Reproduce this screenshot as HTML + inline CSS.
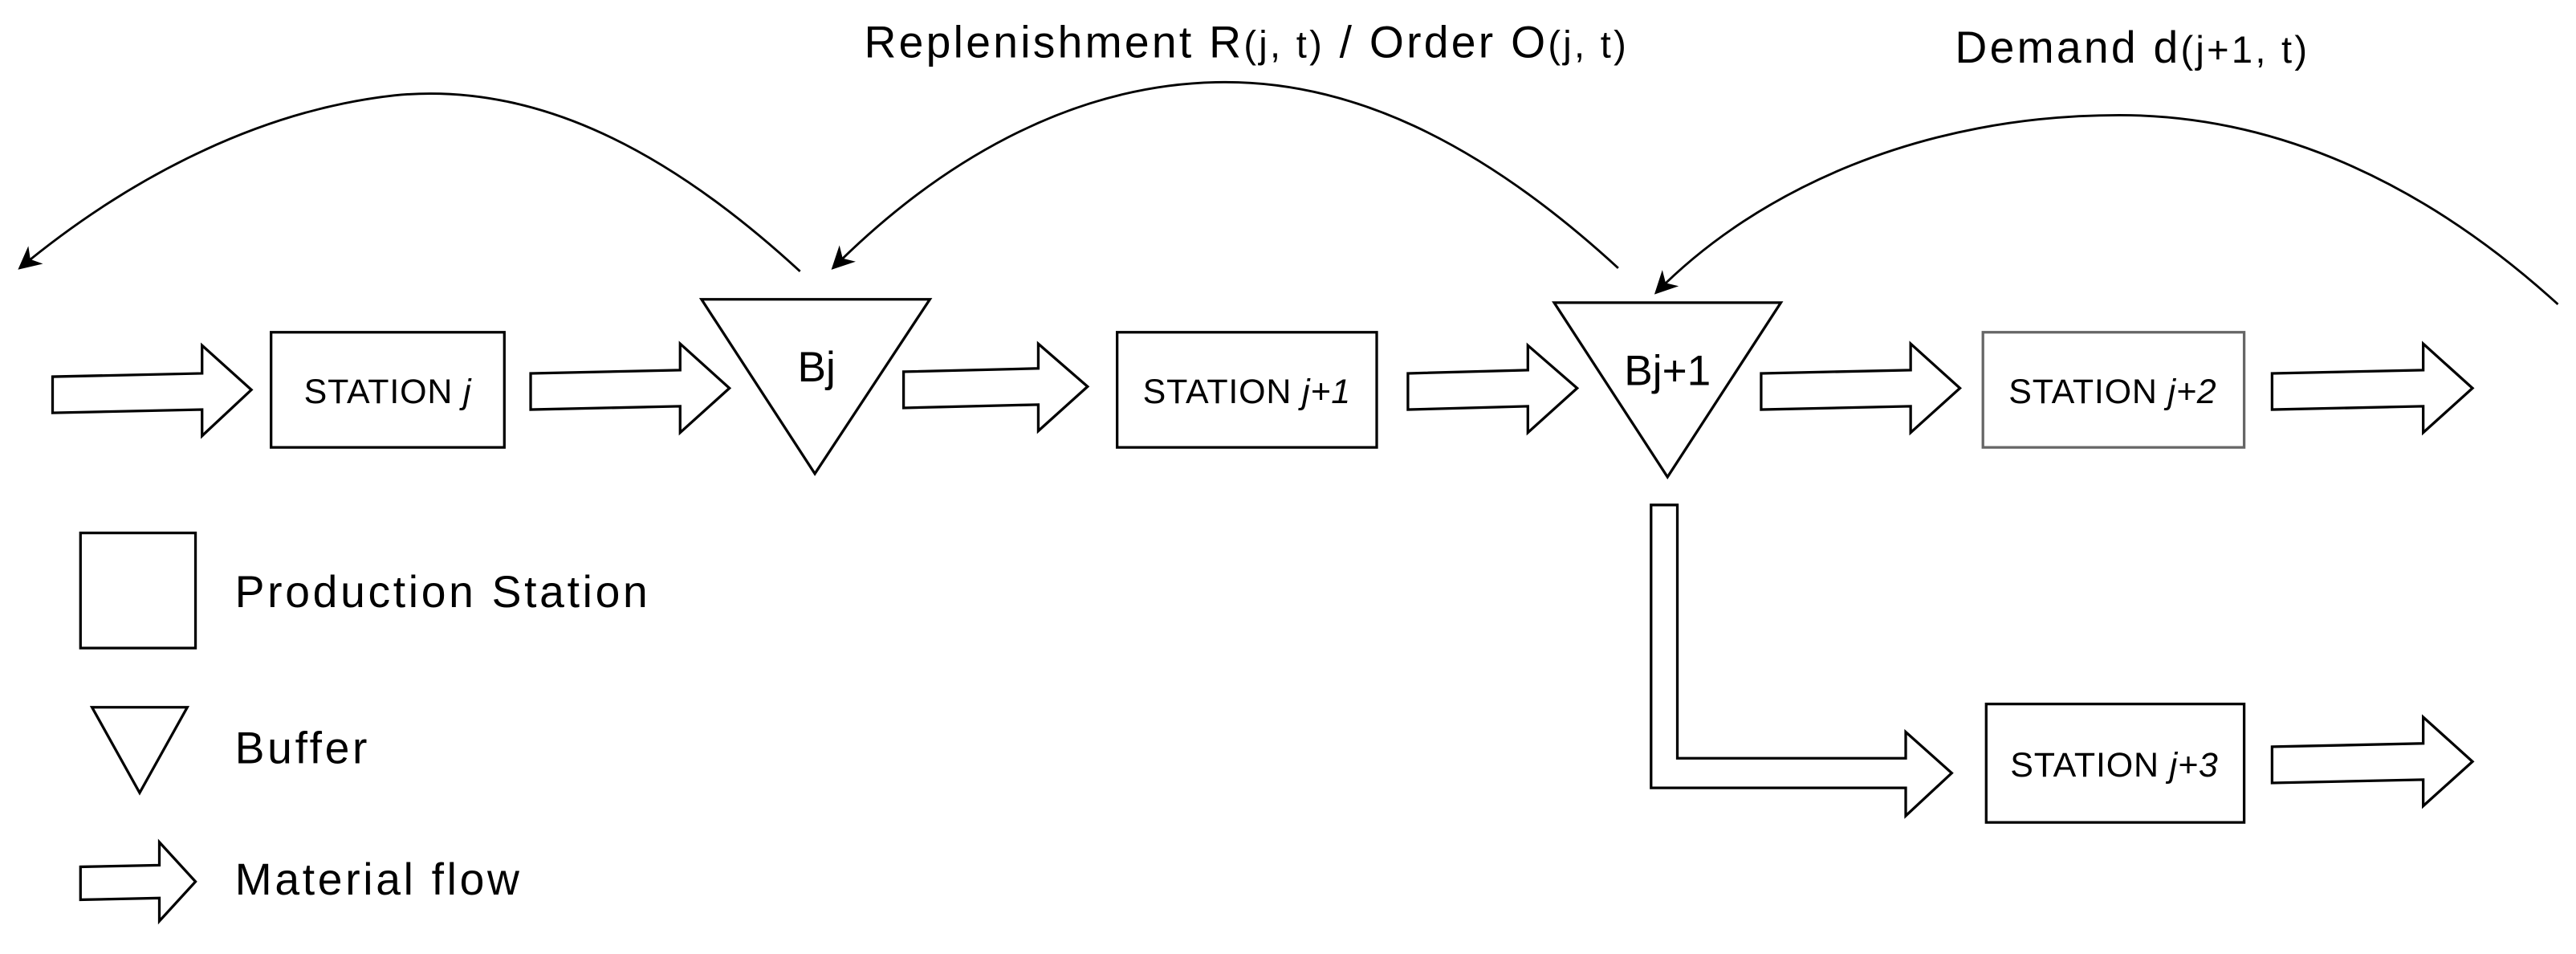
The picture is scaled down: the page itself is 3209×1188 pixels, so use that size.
<!DOCTYPE html>
<html><head><meta charset="utf-8"><style>html,body{margin:0;padding:0;background:#fff}svg{display:block}</style></head>
<body>
<svg width="3209" height="1188" viewBox="0 0 1568 580" preserveAspectRatio="none" xmlns="http://www.w3.org/2000/svg" font-family="Liberation Sans, Arial, sans-serif">
<defs>
<marker id="ah2" viewBox="0 0 10 10" refX="9" refY="5" markerWidth="14" markerHeight="14" orient="auto" markerUnits="userSpaceOnUse"><path d="M0,0 L10,5 L0,10 L3,5 z" fill="#000"/></marker>
</defs>
<g fill="#fff" stroke="#000" stroke-width="1.6">
<path d="M32,229 L123,227 L123,210 L153,237 L123,265 L123,249 L32,251 Z"/>
<path d="M323,227 L414,225 L414,209 L444,236 L414,263 L414,247 L323,249 Z"/>
<path d="M550,226 L632,224 L632,209 L662,235 L632,262 L632,246 L550,248 Z"/>
<path d="M857,227 L930,225 L930,210 L960,236 L930,263 L930,247 L857,249 Z"/>
<path d="M1072,227 L1163,225 L1163,209 L1193,236 L1163,263 L1163,247 L1072,249 Z"/>
<path d="M1383,227 L1475,225 L1475,209 L1505,236 L1475,263 L1475,247 L1383,249 Z"/>
<path d="M1383,454 L1475,452 L1475,436 L1505,463 L1475,490 L1475,474 L1383,476 Z"/>
<path d="M1005,307 L1021,307 L1021,461 L1160,461 L1160,445 L1188,470 L1160,496 L1160,479 L1005,479 Z"/>
<rect x="165" y="202" width="142" height="70"/>
<rect x="680" y="202" width="158" height="70"/>
<rect x="1207" y="202" width="159" height="70" stroke="#666"/>
<rect x="1209" y="428" width="157" height="72"/>
<path d="M427,182 L566,182 L496,288 Z"/>
<path d="M946,184 L1084,184 L1015,290 Z"/>
<rect x="49" y="324" width="70" height="70"/>
<path d="M56,430 L114,430 L85,482 Z"/>
<path d="M49,527 L97,526 L97,512 L119,536 L97,560 L97,546 L49,547 Z"/>
</g>
<g fill="none" stroke="#000" stroke-width="1.4">
<path d="M487,165 C400,85 320,50 240,58 C150,68 70,115 12,163" marker-end="url(#ah2)"/>
<path d="M985,163 C900,85 820,48 740,50 C650,52 570,100 507,163" marker-end="url(#ah2)"/>
<path d="M1557,185 C1480,115 1390,70 1290,70 C1170,70 1070,115 1008,178" marker-end="url(#ah2)"/>
</g>
<g fill="#000">
<text x="236" y="245" font-size="21" letter-spacing="0.4" text-anchor="middle">STATION <tspan font-style="italic">j</tspan></text>
<text x="759" y="245" font-size="21" letter-spacing="0.4" text-anchor="middle">STATION <tspan font-style="italic">j+1</tspan></text>
<text x="1286" y="245" font-size="21" letter-spacing="0.4" text-anchor="middle">STATION <tspan font-style="italic">j+2</tspan></text>
<text x="1287" y="472" font-size="21" letter-spacing="0.4" text-anchor="middle">STATION <tspan font-style="italic">j+3</tspan></text>
<text x="497" y="232" font-size="26" text-anchor="middle">Bj</text>
<text x="1015" y="234" font-size="26" text-anchor="middle">Bj+1</text>
<text x="143" y="369" font-size="27" letter-spacing="1.8">Production Station</text>
<text x="143" y="464" font-size="27" letter-spacing="1.8">Buffer</text>
<text x="143" y="544" font-size="27" letter-spacing="1.8">Material flow</text>
<text x="526" y="35" font-size="27" letter-spacing="1.6">Replenishment R<tspan font-size="23">(j, t)</tspan> / Order O<tspan font-size="23">(j, t)</tspan></text>
<text x="1190" y="38" font-size="27" letter-spacing="1.6">Demand d<tspan font-size="23">(j+1, t)</tspan></text>
</g>
</svg>
</body></html>
